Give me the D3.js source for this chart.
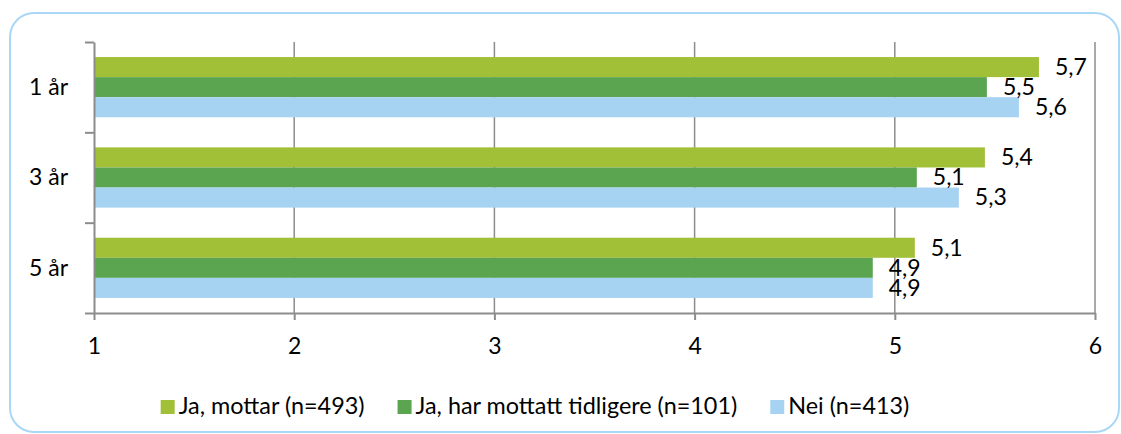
<!DOCTYPE html>
<html>
<head>
<meta charset="utf-8">
<script src="https://cdn.jsdelivr.net/npm/d3@7"></script>
<style>
  body { margin: 0; background: #fff; }
  text { font-family: Lato, "Open Sans", sans-serif; fill: #000; }
</style>
</head>
<body>
<svg width="1121" height="434"></svg>
<script>
// data
var categories = ['1 år', '3 år', '5 år'];
var series = ['Ja, mottar (n=493)', 'Ja, har mottatt tidligere (n=101)', 'Nei (n=413)'];
var values = [
  [5.72, 5.46, 5.62],   // 1 år
  [5.45, 5.11, 5.32],   // 3 år
  [5.10, 4.89, 4.89]    // 5 år
];
var labels = [
  ['5,7', '5,5', '5,6'],
  ['5,4', '5,1', '5,3'],
  ['5,1', '4,9', '4,9']
];
var xTicks = [1, 2, 3, 4, 5, 6];
var colors = ['#a1bf37', '#5ba551', '#a7d3f3'];

var svg = d3.select('svg');

// outer rounded frame
svg.append('rect')
   .attr('x', 10).attr('y', 13)
   .attr('width', 1109).attr('height', 419)
   .attr('rx', 24).attr('ry', 24)
   .attr('fill', '#fff')
   .attr('stroke', '#a9d7f5')
   .attr('stroke-width', 2);

var pLeft = 94, pRight = 1095, pTop = 42, pBottom = 313;

var x = d3.scaleLinear().domain([1, 6]).range([pLeft, pRight]);
var y = d3.scaleBand().domain(categories).range([pTop, pBottom]);
var ySub = d3.scaleBand().domain(series).range([0, y.bandwidth()]).paddingOuter(0.75);

// vertical gridlines
svg.append('g')
   .selectAll('line')
   .data(xTicks.slice(1))
   .enter()
   .append('line')
   .attr('x1', function(d) { return x(d); })
   .attr('x2', function(d) { return x(d); })
   .attr('y1', pTop).attr('y2', pBottom)
   .attr('stroke', '#8c8c8c')
   .attr('stroke-width', 1.5);

// bars
var groups = svg.selectAll('.cat')
   .data(categories)
   .enter()
   .append('g')
   .attr('class', 'cat')
   .attr('transform', function(d) { return 'translate(0,' + y(d) + ')'; });

groups.each(function(c, i) {
  var g = d3.select(this);
  series.forEach(function(s, j) {
    g.append('rect')
     .attr('x', x(1))
     .attr('y', ySub(s))
     .attr('width', x(values[i][j]) - x(1))
     .attr('height', ySub.bandwidth())
     .attr('fill', colors[j]);
  });
  series.forEach(function(s, j) {
    g.append('text')
     .attr('x', x(values[i][j]) + 16)
     .attr('y', ySub(s) + ySub.bandwidth() / 2 + 2)
     .attr('dominant-baseline', 'middle')
     .style('font-size', '23px')
     .text(labels[i][j]);
  });
});

// x axis
var xAxis = svg.append('g')
   .attr('transform', 'translate(0,' + pBottom + ')')
   .call(d3.axisBottom(x).tickValues(xTicks).tickSize(7).tickFormat(d3.format('d')).tickSizeOuter(0));
xAxis.select('.domain').attr('stroke', '#8c8c8c').attr('stroke-width', 2);
xAxis.selectAll('.tick line').attr('stroke', '#8c8c8c').attr('stroke-width', 2);
xAxis.selectAll('.tick text')
     .attr('y', 25)
     .style('font-size', '23px')
     .style('font-family', 'Lato, sans-serif')
     .attr('fill', '#000');

// y axis: boundary ticks between categories
var yEdges = d3.scaleLinear().domain([0, categories.length]).range([pTop, pBottom]);
var yAxis = svg.append('g')
   .attr('transform', 'translate(' + pLeft + ',0)')
   .call(d3.axisLeft(yEdges).tickValues(d3.range(categories.length + 1)).tickSize(9).tickFormat('').tickSizeOuter(0));
yAxis.select('.domain').attr('stroke', '#8c8c8c').attr('stroke-width', 2);
yAxis.selectAll('.tick line').attr('stroke', '#8c8c8c').attr('stroke-width', 2);

// category labels
svg.append('g')
   .selectAll('text')
   .data(categories)
   .enter()
   .append('text')
   .attr('x', 68)
   .attr('y', function(d) { return y(d) + y.bandwidth() / 2 + 2; })
   .attr('text-anchor', 'end')
   .attr('dominant-baseline', 'middle')
   .style('font-size', '23px')
   .text(function(d) { return d; });

// legend
var legend = svg.append('g');
var items = legend.selectAll('.item')
   .data(series)
   .enter()
   .append('g')
   .attr('class', 'item');
items.append('rect')
   .attr('width', 14).attr('height', 14)
   .attr('y', 400)
   .attr('fill', function(d, i) { return colors[i]; });
items.append('text')
   .attr('x', 18)
   .attr('y', 408)
   .attr('dominant-baseline', 'middle')
   .style('font-size', '23.4px')
   .text(function(d) { return d; });

var pos = 0, gap = 33;
items.each(function() {
  var w = 18 + this.querySelector('text').getComputedTextLength();
  this.__x = pos;
  pos += w + gap;
});
var total = pos - gap;
var start = 535 - total / 2;
items.attr('transform', function() { return 'translate(' + (start + this.__x) + ',0)'; });
</script>
</body>
</html>
